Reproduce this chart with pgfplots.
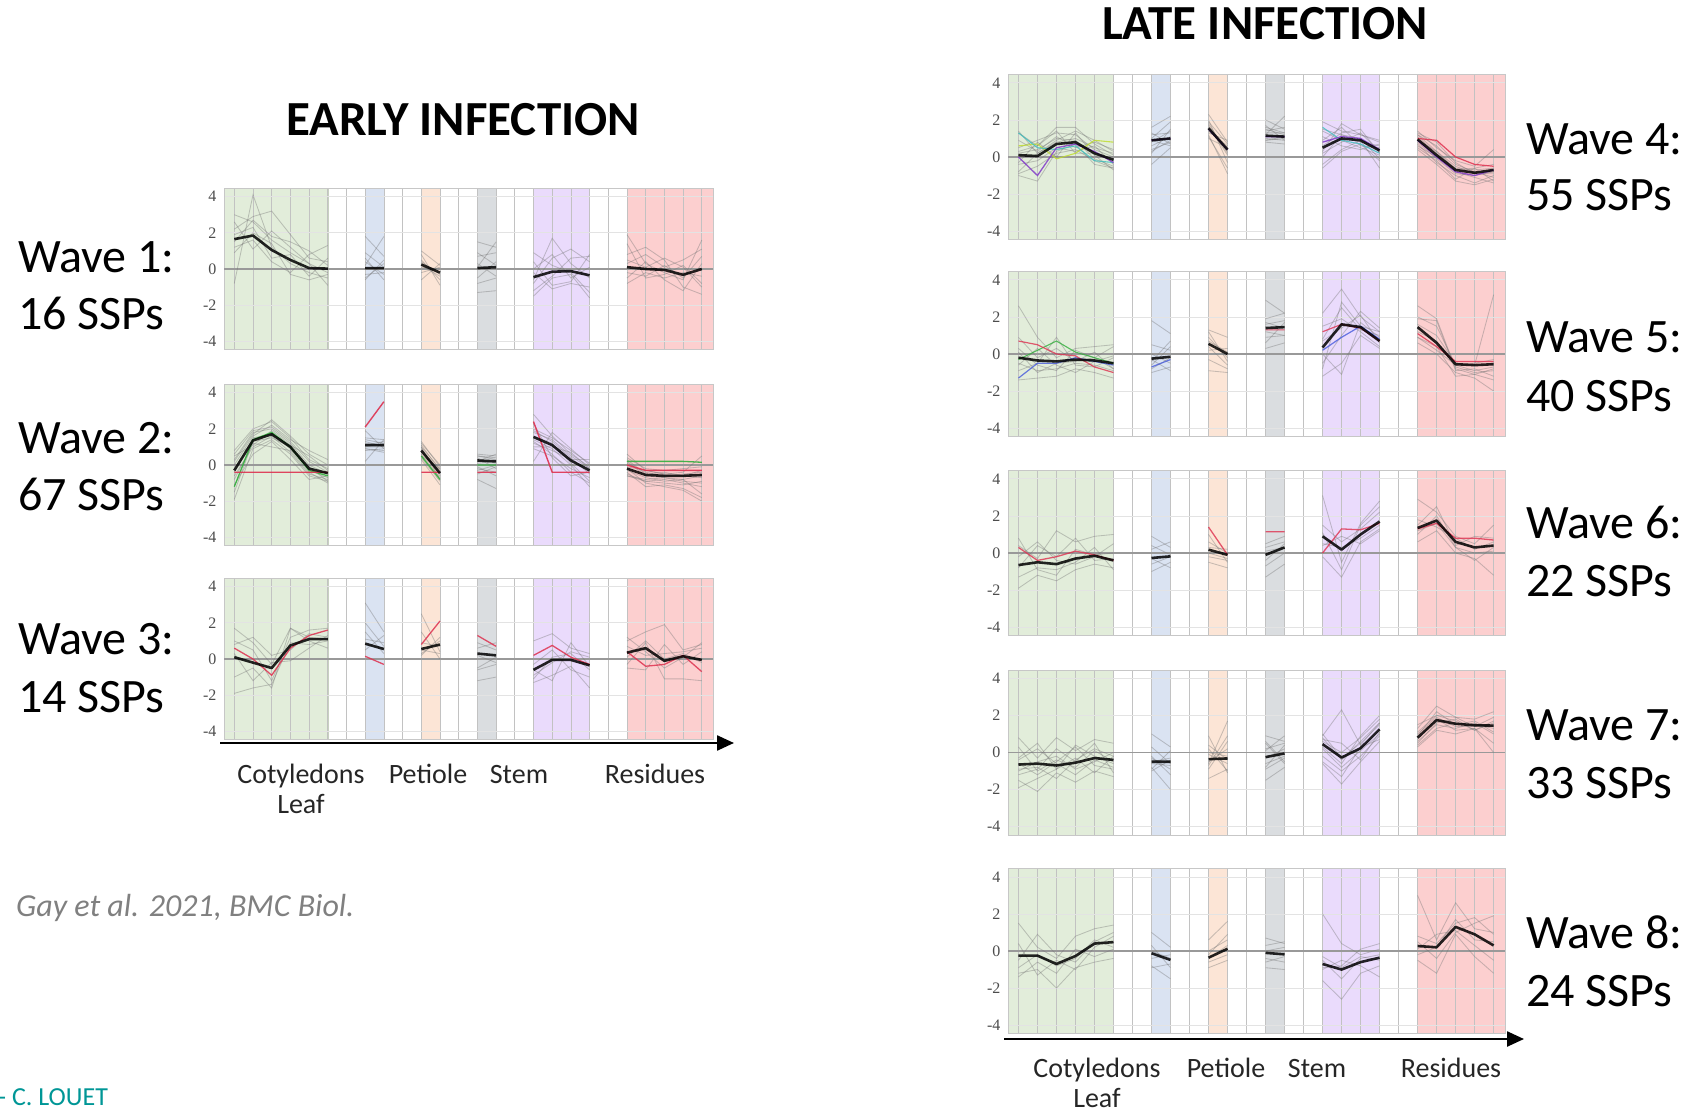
\documentclass[border=0pt]{standalone}
\usepackage{pgfplots}
\usepackage{pgfplotstable}
\pgfplotsset{compat=1.18}
\usetikzlibrary{arrows.meta}
\usepackage{fontspec}
\setmainfont{Carlito}
\newfontfamily\tickfont{Liberation Serif}

\definecolor{bgG}{RGB}{226,237,218}
\definecolor{bgB}{RGB}{218,227,242}
\definecolor{bgO}{RGB}{252,229,214}
\definecolor{bgY}{RGB}{218,221,224}
\definecolor{bgP}{RGB}{234,219,252}
\definecolor{bgR}{RGB}{252,207,207}
\definecolor{tealc}{RGB}{0,150,150}
\definecolor{lred}{RGB}{222,50,80}
\definecolor{lgreen}{RGB}{50,175,60}
\definecolor{lblue}{RGB}{70,90,220}
\definecolor{lpurp}{RGB}{130,60,200}
\definecolor{llime}{RGB}{190,220,40}
\definecolor{lcyan}{RGB}{60,190,190}

% ---------- data: one row per profile, columns = positions 0..25 ----------
\pgfplotstableread{
id 0 1 2 3 4 5 6 7 8 9 10 11 12 13 14 15 16 17 18 19 20 21 22 23 24 25
m 1.65 1.85 1.05 0.5 0.05 0.02 nan 0.05 0.05 nan 0.25 -0.2 nan 0.05 0.1 nan -0.45 -0.15 -0.12 -0.35 nan 0.1 0.0 -0.05 -0.32 0.0
a 3.0 2.6 1.6 0.9 0.3 -0.2 nan 1.8 0.7 nan 1.0 0.2 nan 1.5 1.2 nan -0.6 1.7 0.3 -0.5 nan 1.9 0.3 -0.2 -0.6 1.6
b -0.8 4.1 1.2 0.3 -0.2 -0.5 nan -0.5 0.3 nan 0.5 -0.6 nan -0.8 -0.5 nan -1.5 -0.5 -0.3 -1.6 nan 0.8 1.2 0.5 -1.0 -1.4
c 2.2 2.9 3.2 1.9 0.6 0.4 nan 0.6 -0.6 nan 0.2 -0.4 nan 0.7 0.9 nan 0.4 -0.9 -0.7 0.8 nan -0.2 -0.4 0.2 -0.5 0.7
d 1.2 1.6 0.4 -0.2 0.8 1.3 nan 0.2 1.8 nan -0.6 0.3 nan -1.3 -1.2 nan -0.8 0.6 1.1 0.4 nan 1.4 -0.5 -0.3 0.2 -0.8
e 2.6 1.1 2.1 1.2 0.3 -0.9 nan -0.3 -0.2 nan 0.8 -0.9 nan 0.3 -0.4 nan -0.2 -1.1 -0.8 -1.0 nan -0.5 0.4 -0.6 -1.2 0.3
f 1.9 2.3 0.6 0.8 -0.4 0.6 nan 0.9 0.1 nan 0.1 0.0 nan -0.5 0.4 nan 0.9 0.2 -0.2 -1.3 nan 0.3 0.8 0.1 0.5 1.1
g 0.9 2.0 1.4 -0.3 -0.6 -0.3 nan -0.6 0.5 nan 0.4 -0.3 nan 0.9 0.2 nan -1.2 -0.4 0.6 0.7 nan -0.8 -0.2 -0.5 -0.2 -0.4
h 1.5 2.7 1.8 1.5 1.0 0.2 nan 0.4 -0.3 nan -0.2 0.1 nan 0.1 1.5 nan 0.0 0.8 -0.5 0.1 nan 0.5 0.1 0.6 0.1 -1.0
}\wA
\pgfplotstableread{
id 0 1 2 3 4 5 6 7 8 9 10 11 12 13 14 15 16 17 18 19 20 21 22 23 24 25
m -0.3 1.36 1.7 1.0 -0.2 -0.45 nan 1.1 1.1 nan 0.8 -0.45 nan 0.25 0.2 nan 1.55 1.1 0.25 -0.3 nan -0.2 -0.55 -0.6 -0.6 -0.55
a 0.8 2.0 2.4 1.5 0.3 -0.2 nan 1.4 1.2 nan 1.2 0.0 nan 0.6 0.5 nan 2.8 1.6 0.6 -0.1 nan 0.6 -0.3 -0.5 -0.4 0.5
b -1.9 0.9 1.4 0.6 -0.6 -0.9 nan 0.9 0.8 nan 0.4 -0.9 nan -0.2 -0.4 nan 0.9 0.5 -0.2 -0.7 nan -0.5 -0.9 -1.0 -1.1 -0.9
c 0.3 1.8 2.0 1.2 0.0 -0.5 nan 1.9 0.9 nan 0.9 -0.6 nan 0.3 0.1 nan 1.9 1.3 0.4 -0.5 nan 0.2 -0.6 -0.7 -0.8 -0.6
d -0.8 1.2 1.0 0.8 -0.4 -1.0 nan 0.2 1.4 nan 0.7 -0.4 nan -0.8 -1.3 nan 1.2 0.8 0.3 0.3 nan -0.3 -0.7 -0.9 -0.8 -1.6
e 0.0 1.6 2.2 1.4 0.8 0.3 nan 1.0 1.0 nan 0.5 -0.2 nan 0.5 0.4 nan 0.2 1.8 0.9 0.0 nan -0.1 -0.3 -0.5 -0.6 -0.7
f -0.4 1.5 1.7 0.9 -0.3 -0.7 nan 1.2 1.1 nan 0.8 -0.5 nan 0.1 0.2 nan 1.6 1.2 0.1 -0.9 nan -0.4 -1.2 -1.1 -1.3 -1.8
g -1.1 0.6 1.3 0.3 -0.8 -0.6 nan 1.1 1.3 nan 1.0 -0.8 nan 0.4 -0.2 nan 2.3 0.4 -0.6 -0.4 nan 0.3 -0.5 -0.4 -0.6 -0.3
h 0.5 1.1 1.9 1.1 0.5 -0.3 nan 0.8 0.9 nan 1.1 -0.3 nan -0.3 0.0 nan 1.0 1.0 0.7 -0.2 nan -0.6 -0.8 -0.7 -0.9 -1.0
i 0.6 1.9 2.1 1.3 0.2 -0.4 nan 1.3 1.0 nan 1.0 -0.2 nan 0.5 0.3 nan 1.8 1.4 0.5 -0.2 nan 0.1 -0.4 -0.6 -0.5 -0.4
j -0.6 1.0 1.6 0.7 -0.5 -0.8 nan 1.0 1.2 nan 0.6 -0.7 nan -0.1 -0.6 nan 1.3 0.6 -0.4 -1.0 nan -0.6 -0.9 -0.8 -1.0 -1.2
k 0.2 1.7 2.5 1.6 0.6 0.0 nan 0.9 0.7 nan 1.3 -0.1 nan 0.2 0.6 nan 2.0 1.5 0.8 0.1 nan 0.4 -0.2 -0.3 -0.2 -0.1
o -1.5 1.3 1.5 1.0 -0.1 -0.9 nan 1.5 1.4 nan 0.3 -1.1 nan -0.5 -0.1 nan 1.4 0.9 0.0 -1.2 nan -0.2 -1.0 -1.2 -1.4 -2.0
r -0.4 -0.4 -0.4 -0.4 -0.4 -0.4 nan 2.1 3.5 nan -0.4 -0.4 nan -0.4 -0.4 nan 2.4 -0.4 -0.4 -0.4 nan 0.0 -0.3 -0.3 -0.3 -0.3
s -1.2 1.4 1.8 1.0 -0.3 -0.6 nan nan nan nan 0.5 -0.8 nan 0.0 0.0 nan nan nan nan nan nan 0.2 0.2 0.2 0.2 0.15
}\wB
\pgfplotstableread{
id 0 1 2 3 4 5 6 7 8 9 10 11 12 13 14 15 16 17 18 19 20 21 22 23 24 25
m 0.1 -0.2 -0.5 0.75 1.1 1.1 nan 0.85 0.55 nan 0.55 0.8 nan 0.3 0.2 nan -0.6 -0.05 -0.05 -0.35 nan 0.35 0.6 -0.1 0.15 -0.05
a 1.7 0.9 -0.3 1.7 1.2 1.1 nan 3.1 1.5 nan 2.5 0.4 nan 0.9 0.5 nan 1.0 1.4 0.6 0.3 nan 1.0 1.5 1.9 0.5 0.8
b -1.9 -1.6 -1.4 0.9 0.8 1.0 nan 1.5 0.3 nan 0.2 1.2 nan -0.5 0.1 nan -1.3 -0.9 -0.4 -1.6 nan -0.3 0.9 -1.1 -1.1 -1.2
c 0.8 1.2 0.2 0.5 1.4 1.2 nan 2.0 0.7 nan 0.5 0.3 nan 0.2 -0.2 nan -0.3 0.5 -0.6 -1.0 nan 0.7 0.2 0.3 0.4 0.6
d -1.0 -0.5 -1.6 1.7 1.0 0.6 nan 0.5 1.3 nan 0.9 0.7 nan -1.2 -1.0 nan -0.9 -0.2 0.4 0.1 nan 1.2 0.4 -0.5 0.1 0.9
e 0.3 -1.2 -0.2 -0.1 0.6 1.3 nan 1.1 0.9 nan 0.3 1.0 nan 0.6 0.9 nan -1.1 0.1 0.3 -0.6 nan 0.1 1.0 0.0 0.3 -0.2
f 1.0 0.5 -1.2 1.2 1.6 1.7 nan 0.8 0.6 nan 1.5 0.0 nan -0.6 -0.3 nan -0.6 -1.2 0.9 -0.4 nan -0.5 -0.6 0.8 -0.3 0.4
r 0.6 0.0 -0.9 0.6 1.3 1.6 nan 0.15 -0.3 nan 0.8 2.1 nan 1.3 0.7 nan 0.2 0.75 0.1 -0.3 nan 0.4 -0.4 -0.3 0.2 -0.7
}\wC
\pgfplotstableread{
id 0 1 2 3 4 5 6 7 8 9 10 11 12 13 14 15 16 17 18 19 20 21 22 23 24 25
m 0.1 0.05 0.7 0.8 0.2 -0.15 nan 0.9 1.0 nan 1.55 0.4 nan 1.15 1.1 nan 0.5 1.0 0.9 0.35 nan 0.95 0.1 -0.7 -0.85 -0.7
a 1.3 0.6 1.6 1.6 0.7 0.1 nan 1.6 2.2 nan 2.3 0.8 nan 2.0 1.5 nan 1.9 1.4 1.2 0.9 nan 1.4 0.5 -0.2 -0.5 0.4
b -0.9 -0.5 0.2 0.4 -0.2 -0.6 nan -0.4 0.5 nan 1.2 -0.9 nan 0.8 0.7 nan -0.6 0.3 0.7 -0.2 nan 0.7 -0.3 -1.0 -1.4 -1.0
c 0.5 0.9 1.3 1.2 0.4 0.0 nan 1.2 1.3 nan 1.8 0.2 nan 1.3 1.3 nan 0.9 1.6 0.6 0.5 nan 1.2 0.3 -0.5 -0.9 -0.9
d -0.4 -0.2 0.5 0.3 0.6 -0.4 nan 0.4 0.8 nan 1.4 0.6 nan 1.0 0.9 nan 0.2 0.8 1.3 0.3 nan 0.6 0.0 -0.8 -1.1 -1.4
e 0.2 0.4 1.0 0.9 -0.1 -0.5 nan 0.9 0.6 nan 1.6 0.3 nan 1.5 1.2 nan 1.1 0.6 0.4 0.7 nan 1.1 0.2 -0.6 -0.7 -0.6
f -0.8 0.2 0.8 1.0 0.5 0.2 nan 0.6 1.1 nan 1.0 0.5 nan 0.9 1.1 nan 0.0 1.2 1.0 -0.1 nan 0.8 -0.1 -0.9 -1.0 -0.8
g 0.9 0.3 1.1 0.5 0.8 0.4 nan 1.3 0.7 nan 2.0 -0.3 nan 1.4 1.6 nan 1.4 0.9 0.5 0.1 nan 1.2 0.6 -0.4 -0.8 -1.1
h -0.3 0.8 0.0 1.3 0.1 -0.7 nan 0.2 1.5 nan 1.3 0.9 nan 1.7 0.9 nan 0.3 1.8 1.2 0.8 nan 0.5 -0.2 -1.2 -0.6 -0.4
i 1.4 0.2 0.9 1.4 0.9 0.3 nan 1.0 1.9 nan 1.7 0.1 nan 1.2 2.2 nan 1.5 1.2 0.8 0.6 nan 1.3 0.8 -0.3 -0.9 -0.8
j -1.0 -1.3 0.3 0.7 -0.4 -0.6 nan 0.3 0.9 nan 1.1 -0.6 nan 0.9 1.0 nan -0.4 0.4 0.9 -0.6 nan 0.4 -0.4 -1.3 -1.5 -1.2
k 0.3 0.6 1.4 0.2 0.2 -0.2 nan 0.8 1.4 nan 1.9 0.7 nan 1.6 1.3 nan 0.6 1.3 1.5 0.2 nan 0.9 0.3 -0.7 -0.6 -1.3
p 0.0 -1.0 0.5 0.7 0.3 -0.3 nan 0.9 1.0 nan 1.5 0.4 nan 1.1 1.1 nan 0.8 1.1 1.0 0.4 nan 0.9 0.0 -0.8 -1.0 -0.7
l 0.6 0.7 -0.1 0.2 0.9 0.8 nan nan nan nan nan nan nan nan nan nan nan nan nan nan nan nan nan nan nan nan
q 1.3 0.5 0.4 0.6 -0.2 -0.3 nan nan nan nan nan nan nan nan nan nan 1.6 0.9 0.7 0.2 nan nan nan nan nan nan
r nan nan nan nan nan nan nan nan nan nan nan nan nan nan nan nan nan nan nan nan nan 1.0 0.9 0.0 -0.4 -0.5
}\wD
\pgfplotstableread{
id 0 1 2 3 4 5 6 7 8 9 10 11 12 13 14 15 16 17 18 19 20 21 22 23 24 25
m -0.2 -0.35 -0.4 -0.3 -0.35 -0.5 nan -0.25 -0.15 nan 0.55 0.0 nan 1.4 1.45 nan 0.35 1.6 1.45 0.7 nan 1.45 0.6 -0.55 -0.6 -0.55
a 2.6 0.9 -0.2 0.3 0.4 0.5 nan 1.8 1.1 nan 1.3 0.9 nan 2.9 2.2 nan 2.2 3.5 2.0 1.2 nan 2.6 1.9 -0.8 -1.1 -0.8
b -1.4 -1.3 -1.2 -0.8 -1.0 -1.3 nan -1.0 -0.7 nan -0.9 -1.0 nan 0.3 0.6 nan -1.2 -0.5 1.0 0.3 nan 0.6 0.0 -1.0 -1.3 -2.0
c 0.3 -0.6 -0.9 0.2 -0.2 0.4 nan 0.5 0.2 nan 1.2 -0.4 nan 1.9 2.2 nan 0.8 2.5 1.3 1.0 nan 1.9 1.8 -0.9 -0.8 -1.2
d -0.9 -0.5 0.9 -0.6 -0.7 -0.2 nan -0.6 0.4 nan 0.2 0.3 nan 0.9 1.0 nan 0.0 -1.1 1.7 0.9 nan 0.9 0.2 -0.6 -0.5 -0.3
e 0.1 -1.0 -0.5 -0.4 -0.2 -0.8 nan 0.0 -0.5 nan 0.7 0.1 nan 1.6 1.8 nan 1.5 1.9 1.2 0.4 nan 1.6 1.0 -0.5 -0.6 3.2
f -0.6 0.3 -0.6 -1.0 -0.4 -0.1 nan -0.3 -0.9 nan 0.4 -0.6 nan 1.2 1.0 nan -0.5 1.0 2.3 1.4 nan 1.2 0.7 -0.7 -1.0 -0.9
g 0.9 -0.2 0.3 -0.4 0.1 -0.8 nan -0.4 0.7 nan 0.9 -0.2 nan 1.7 1.4 nan 0.7 1.4 2.1 0.6 nan 2.0 1.5 -0.6 -0.9 -0.7
h -0.5 -0.9 -0.8 -0.5 -0.6 -0.9 nan -0.8 -0.2 nan -0.3 -0.8 nan 0.6 1.7 nan -0.8 2.8 1.5 1.2 nan 0.9 0.4 -1.2 -1.1 -1.4
r 0.7 0.5 0.0 -0.1 -0.7 -1.0 nan nan nan nan nan nan nan 1.3 1.3 nan 1.2 1.6 1.4 0.7 nan 1.1 0.4 -0.4 -0.4 -0.4
s -0.3 0.2 0.7 0.1 -0.2 -0.5 nan nan nan nan nan nan nan nan nan nan nan nan nan nan nan nan nan nan nan nan
q -1.3 -0.5 -0.5 -0.2 -0.4 -0.6 nan -0.7 -0.3 nan nan nan nan nan nan nan 0.2 0.9 1.5 0.8 nan nan nan nan nan nan
}\wE
\pgfplotstableread{
id 0 1 2 3 4 5 6 7 8 9 10 11 12 13 14 15 16 17 18 19 20 21 22 23 24 25
m -0.65 -0.5 -0.6 -0.3 -0.15 -0.4 nan -0.27 -0.18 nan 0.18 -0.1 nan -0.1 0.3 nan 0.9 0.18 1.0 1.7 nan 1.35 1.75 0.6 0.3 0.4
a 0.4 -0.3 1.2 0.6 0.9 1.0 nan 0.9 0.3 nan 1.0 -0.5 nan 0.5 0.9 nan 3.1 -0.5 1.6 2.8 nan 2.9 2.2 0.9 0.5 1.5
b -1.9 -1.2 -1.5 -0.9 -0.6 -0.8 nan -1.0 -0.5 nan -0.5 -0.8 nan -1.3 -0.6 nan -0.2 -1.3 0.6 1.3 nan 0.6 1.2 0.0 -0.3 -1.2
c -0.8 0.4 -0.2 0.8 -0.4 -0.3 nan 0.2 0.6 nan 0.3 0.2 nan 0.3 0.6 nan 1.5 0.6 1.3 2.2 nan 1.8 1.4 0.8 0.2 0.6
d -1.3 -0.8 -0.9 -0.5 0.3 -0.9 nan -0.6 -0.2 nan -0.2 -0.4 nan -0.7 0.0 nan 0.4 0.9 0.5 1.2 nan 1.0 2.0 0.3 0.0 0.1
e 0.8 -0.9 -1.2 0.2 -0.1 0.0 nan -0.3 -0.8 nan 0.6 0.0 nan -0.4 0.5 nan 1.1 -0.9 1.5 2.5 nan 1.5 2.5 0.4 0.9 0.8
f -0.2 0.6 -0.4 -0.6 -0.2 0.5 nan 0.4 -0.1 nan 0.0 -0.3 nan 0.1 0.3 nan 0.5 0.3 0.8 1.5 nan 1.2 1.6 0.3 -0.4 0.3
r 0.3 -0.4 -0.2 0.1 -0.1 -0.4 nan nan nan nan 1.4 -0.1 nan 1.15 1.15 nan 0.0 1.3 1.25 1.6 nan 1.3 1.6 0.8 0.8 0.7
}\wF
\pgfplotstableread{
id 0 1 2 3 4 5 6 7 8 9 10 11 12 13 14 15 16 17 18 19 20 21 22 23 24 25
m -0.65 -0.6 -0.7 -0.55 -0.3 -0.4 nan -0.5 -0.5 nan -0.36 -0.32 nan -0.25 -0.05 nan 0.45 -0.27 0.23 1.25 nan 0.8 1.75 1.55 1.47 1.45
a 0.8 -0.3 0.8 0.1 0.7 0.5 nan 1.0 0.3 nan -0.6 1.7 nan 0.9 0.6 nan 0.9 2.3 0.4 1.6 nan 1.3 2.5 1.9 1.8 2.2
b -1.5 -2.1 -1.1 -1.6 -1.0 -1.3 nan -0.8 -2.0 nan -1.4 -0.9 nan -1.5 -0.8 nan -0.6 -1.7 -0.5 0.6 nan 0.3 1.2 1.0 1.3 0.0
c -0.3 0.5 -0.9 0.4 -0.2 -0.6 nan -0.3 -0.9 nan 0.4 -0.4 nan 0.2 0.5 nan 0.6 0.0 0.8 1.8 nan 1.1 2.0 1.7 1.2 1.6
d -1.0 -0.5 -0.2 -0.9 -0.5 0.0 nan -0.5 -0.3 nan -0.1 -0.6 nan -0.6 -0.2 nan 0.2 -0.8 0.1 1.0 nan 0.6 1.5 1.3 1.6 1.0
e -0.6 -1.2 -0.5 0.3 -0.7 -0.9 nan -0.6 -0.7 nan -0.5 0.2 nan 0.1 0.9 nan 1.0 -0.3 0.5 1.5 nan 1.0 1.9 1.4 1.4 1.9
f -0.9 -0.8 -1.4 -0.4 0.2 -0.2 nan -0.4 -0.5 nan 0.0 -0.2 nan -0.9 -0.3 nan -0.2 -1.0 -0.2 0.9 nan 0.4 1.3 1.6 1.5 1.3
g -0.4 0.2 -0.6 -1.2 -0.4 -0.8 nan -1.0 -0.4 nan 0.9 -1.1 nan 0.5 -0.6 nan 0.7 0.5 -0.4 1.1 nan 0.9 2.2 1.5 1.7 1.1
h -1.2 -0.9 0.2 -0.5 0.5 -1.1 nan 0.3 -0.6 nan -0.9 0.6 nan -0.3 0.2 nan 0.3 -0.6 0.9 2.0 nan 0.5 1.6 1.8 1.2 1.7
i 0.3 -1.0 -0.4 -0.8 0.1 -0.5 nan -0.2 -1.2 nan 0.2 -1.0 nan -0.8 0.4 nan 0.8 -0.4 0.6 1.6 nan 1.5 2.0 1.9 1.4 1.5
j -1.9 -1.4 -0.9 -0.3 -1.1 -0.2 nan -0.9 0.1 nan -0.7 0.9 nan 0.6 -0.5 nan -0.5 -1.3 0.3 0.7 nan 0.7 1.8 1.2 1.3 0.5
}\wG
\pgfplotstableread{
id 0 1 2 3 4 5 6 7 8 9 10 11 12 13 14 15 16 17 18 19 20 21 22 23 24 25
m -0.25 -0.25 -0.7 -0.27 0.4 0.48 nan -0.12 -0.48 nan -0.36 0.12 nan -0.1 -0.18 nan -0.7 -1.0 -0.6 -0.36 nan 0.27 0.2 1.3 0.9 0.3
a 1.5 0.2 -0.4 0.8 1.2 1.4 nan 1.0 0.2 nan 0.6 1.6 nan 0.7 0.4 nan 2.0 0.4 -0.2 0.1 nan 3.0 0.6 2.6 1.2 1.0
b -1.2 -1.0 -2.0 -0.9 -0.6 -0.4 nan -0.8 -1.5 nan -0.9 -0.5 nan -0.9 -1.0 nan -1.6 -2.6 -1.2 -0.8 nan -0.5 -1.2 0.9 -0.3 -1.2
c -0.5 0.9 -0.2 -0.6 0.5 1.0 nan 0.3 -0.9 nan 0.0 0.6 nan 0.3 0.5 nan -0.3 -0.9 -0.3 -0.5 nan 0.8 0.4 1.5 1.8 0.9
d -1.4 -0.6 -1.2 0.1 -0.3 0.1 nan -0.4 -0.2 nan -0.6 -0.2 nan -0.4 -0.6 nan -1.0 -0.5 -0.8 -1.4 nan 0.1 0.9 1.1 0.3 -0.5
e 0.4 -1.3 -0.5 -1.0 0.2 0.8 nan -0.9 -0.7 nan -0.4 0.3 nan 0.0 0.2 nan -0.5 -1.5 -0.4 -0.2 nan -0.2 0.2 1.7 0.6 0.5
f -0.9 -0.2 -0.8 -0.4 0.6 0.2 nan 0.0 -0.4 nan -0.2 0.9 nan -0.6 -0.3 nan -0.9 -0.8 0.1 0.4 nan 0.5 -0.4 1.0 1.5 1.9
}\wH

\pgfplotstabletranspose[colnames from=id,input colnames to=x]{\tA}{\wA}
\pgfplotstabletranspose[colnames from=id,input colnames to=x]{\tB}{\wB}
\pgfplotstabletranspose[colnames from=id,input colnames to=x]{\tC}{\wC}
\pgfplotstabletranspose[colnames from=id,input colnames to=x]{\tD}{\wD}
\pgfplotstabletranspose[colnames from=id,input colnames to=x]{\tE}{\wE}
\pgfplotstabletranspose[colnames from=id,input colnames to=x]{\tF}{\wF}
\pgfplotstabletranspose[colnames from=id,input colnames to=x]{\tG}{\wG}
\pgfplotstabletranspose[colnames from=id,input colnames to=x]{\tH}{\wH}

\tikzset{
  gl/.style={black!55, line width=0.85pt, opacity=0.38},
  mn/.style={black, line width=2.6pt, opacity=0.85, line join=round},
  zl/.style={black!40, line width=1.1pt},
}
\pgfplotsset{
  panel/.style={
    scale only axis, set layers,
    xmin=-0.55, xmax=25.6, ymin=-4.45, ymax=4.45,
    xtick={0,...,25}, xticklabels={},
    ytick={-4,-2,0,2,4}, yticklabels={-4,-2,0,2,4},
    yticklabel style={font=\tickfont\fontsize{16}{16}\selectfont, text=black!70, xshift=-4pt},
    major tick length=0pt,
    grid=major,
    major x grid style={black!24, line width=0.7pt},
    major y grid style={black!11, line width=0.7pt},
    axis line style={black!22, line width=0.8pt},
    unbounded coords=jump,
  },
}
\newcommand\band[3]{\addplot[on layer=axis background, draw=#3!88!black, line width=0.5pt, fill=#3] coordinates {(#1,-4.45)(#2,-4.45)(#2,4.45)(#1,4.45)};}
\newcommand\panelbody[2]{%
  \band{-0.55}{5}{bgG}\band{7}{8}{bgB}\band{10}{11}{bgO}\band{13}{14}{bgY}\band{16}{19}{bgP}\band{21}{25.6}{bgR}
  \addplot[zl] coordinates {(-0.55,0)(25.6,0)};
  \pgfplotsinvokeforeach{#2}{\addplot[gl] table[x=x,y=##1]{#1};}
}

\begin{document}
\begin{tikzpicture}[x=1pt,y=1pt]

% ---------------- EARLY ----------------
\begin{axis}[panel, width=489pt, height=161pt, at={(224pt,761.5pt)}, anchor=south west]
\panelbody{\tA}{a,b,c,d,e,f,g,h}
\addplot[mn] table[x=x,y=m]{\tA};
\end{axis}

\begin{axis}[panel, width=489pt, height=161pt, at={(224pt,565.5pt)}, anchor=south west]
\panelbody{\tB}{a,b,c,d,e,f,g,h,i,j,k,o}
\addplot[lgreen, line width=1.3pt, opacity=0.9] table[x=x,y=s]{\tB};
\addplot[lred, line width=1.4pt, opacity=0.9] table[x=x,y=r]{\tB};
\addplot[mn] table[x=x,y=m]{\tB};
\end{axis}

\begin{axis}[panel, width=489pt, height=161pt, at={(224pt,371.5pt)}, anchor=south west]
\panelbody{\tC}{a,b,c,d,e,f}
\addplot[lred, line width=1.3pt, opacity=0.85] table[x=x,y=r]{\tC};
\addplot[mn] table[x=x,y=m]{\tC};
\end{axis}
\draw[line width=2.4pt, -{Triangle[length=17pt,width=15pt]}] (220,368) -- (734,368);

% ---------------- LATE ----------------
\begin{axis}[panel, width=497pt, height=165pt, at={(1008pt,871.5pt)}, anchor=south west]
\panelbody{\tD}{a,b,c,d,e,f,g,h,i,j,k}
\addplot[llime, line width=1.1pt, opacity=0.8] table[x=x,y=l]{\tD};
\addplot[lcyan, line width=1.1pt, opacity=0.8] table[x=x,y=q]{\tD};
\addplot[lpurp, line width=1.3pt, opacity=0.85] table[x=x,y=p]{\tD};
\addplot[lred, line width=1.2pt, opacity=0.85] table[x=x,y=r]{\tD};
\addplot[mn] table[x=x,y=m]{\tD};
\end{axis}

\begin{axis}[panel, width=497pt, height=165pt, at={(1008pt,674.5pt)}, anchor=south west]
\panelbody{\tE}{a,b,c,d,e,f,g,h}
\addplot[lgreen, line width=1.1pt, opacity=0.8] table[x=x,y=s]{\tE};
\addplot[lblue, line width=1.2pt, opacity=0.8] table[x=x,y=q]{\tE};
\addplot[lred, line width=1.2pt, opacity=0.8] table[x=x,y=r]{\tE};
\addplot[mn] table[x=x,y=m]{\tE};
\end{axis}

\begin{axis}[panel, width=497pt, height=165pt, at={(1008pt,475.5pt)}, anchor=south west]
\panelbody{\tF}{a,b,c,d,e,f}
\addplot[lred, line width=1.3pt, opacity=0.8] table[x=x,y=r]{\tF};
\addplot[mn] table[x=x,y=m]{\tF};
\end{axis}

\begin{axis}[panel, width=497pt, height=165pt, at={(1008pt,276pt)}, anchor=south west]
\panelbody{\tG}{a,b,c,d,e,f,g,h,i,j}
\addplot[mn] table[x=x,y=m]{\tG};
\end{axis}

\begin{axis}[panel, width=497pt, height=165pt, at={(1008pt,77.5pt)}, anchor=south west]
\panelbody{\tH}{a,b,c,d,e,f}
\addplot[mn] table[x=x,y=m]{\tH};
\end{axis}
\draw[line width=2.4pt, -{Triangle[length=17pt,width=15pt]}] (1004,72) -- (1524,72);

% ---------------- TEXT ----------------
\node[anchor=base, font=\bfseries\fontsize{49}{58}\selectfont] at (463,975) {EARLY INFECTION};
\node[anchor=base, font=\bfseries\fontsize{49}{58}\selectfont] at (1265,1071) {LATE INFECTION};

\begin{scope}[every node/.style={anchor=base west, inner sep=0pt, font=\fontsize{48}{56}\selectfont}]
\node at (18,838) {Wave 1:};  \node at (18,781) {16 SSPs};
\node at (18,657) {Wave 2:};  \node at (18,600) {67 SSPs};
\node at (18,456) {Wave 3:};  \node at (18,398) {14 SSPs};
\node at (1526,956) {Wave 4:}; \node at (1526,900) {55 SSPs};
\node at (1526,758) {Wave 5:}; \node at (1526,699) {40 SSPs};
\node at (1526,572) {Wave 6:}; \node at (1526,514) {22 SSPs};
\node at (1526,370) {Wave 7:}; \node at (1526,312) {33 SSPs};
\node at (1526,163) {Wave 8:}; \node at (1526,105) {24 SSPs};
\end{scope}

\begin{scope}[every node/.style={anchor=base, inner sep=0pt, font=\fontsize{28}{32}\selectfont, text=black!85}]
\node at (301,327) {Cotyledons}; \node at (301,297) {Leaf};
\node at (428,327) {Petiole}; \node at (519,327) {Stem}; \node at (655,327) {Residues};
\node at (1097,34) {Cotyledons}; \node at (1097,4) {Leaf};
\node at (1226,34) {Petiole}; \node at (1317,34) {Stem}; \node at (1451,34) {Residues};
\end{scope}

\node[anchor=base west, inner sep=0pt, font=\itshape\fontsize{32}{36}\selectfont, text=black!50] at (16,195) {Gay et al. 2021, BMC Biol.};
\node[anchor=base west, inner sep=0pt, font=\fontsize{26}{30}\selectfont, text=tealc] at (-2,6) {- C. LOUET};

\pgfresetboundingbox
\path[use as bounding box] (0,0) rectangle (1688,1111);
\end{tikzpicture}
\end{document}
